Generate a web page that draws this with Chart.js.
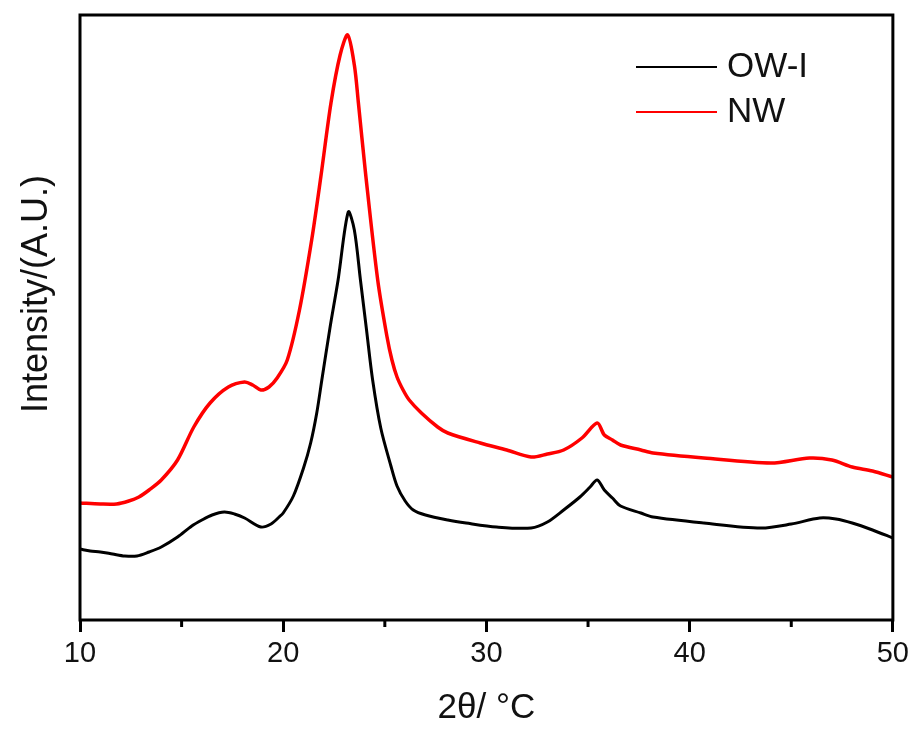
<!DOCTYPE html>
<html>
<head>
<meta charset="utf-8">
<script src="https://cdn.jsdelivr.net/npm/chart.js@4.4.0/dist/chart.umd.min.js"></script>
<style>
body { margin: 0; background: #fff; }
</style>
</head>
<body>
<canvas id="xrd" width="914" height="729"></canvas>
<script>
// datos (intensidad en unidades arbitrarias)
var owX = [10.0, 10.5, 11.0, 11.6, 12.2, 12.8, 13.4, 14.0, 14.8, 15.5, 16.0, 16.5, 17.1, 17.6, 18.1, 18.9, 19.4, 19.8, 20.0, 20.5, 21.0, 21.35, 21.65, 21.9, 22.3, 22.7, 23.2, 23.5, 23.8, 24.1, 24.4, 24.8, 25.3, 25.6, 26.0, 26.4, 27.0, 28.1, 29.0, 30.5, 32.2, 33.0, 33.8, 34.6, 35.1, 35.45, 35.8, 36.2, 36.6, 37.6, 38.2, 40.7, 43.5, 45.0, 46.4, 47.2, 48.0, 49.0, 50.0];
var owY = [69, 67, 66, 64, 62, 62, 66, 71, 81, 92, 98, 103, 106, 104, 100, 91, 94, 101, 105, 122, 150, 175, 205, 238, 290, 338, 406, 388, 338, 288, 238, 190, 152, 132, 117, 108, 103, 98, 95, 91, 90, 96, 108, 121, 131, 138, 128, 120, 112, 105, 101, 95, 90, 94, 100, 99, 95, 88, 80];

var nwX = [10.0, 11.0, 11.8, 12.4, 12.9, 13.4, 14.0, 14.8, 15.6, 16.4, 17.3, 18.1, 18.5, 18.9, 19.3, 19.7, 20.2, 20.8, 21.4, 21.85, 22.35, 22.8, 23.17, 23.5, 23.7, 24.05, 24.65, 25.1, 25.35, 25.6, 25.9, 26.2, 26.8, 27.6, 28.1, 29.7, 31.0, 32.2, 33.0, 33.8, 34.7, 35.45, 35.8, 36.2, 36.6, 37.6, 38.2, 40.7, 44.0, 45.9, 47.0, 48.0, 49.0, 50.0];
var nwY = [115, 114, 114, 117, 121, 128, 138, 158, 191, 215, 231, 236, 233, 228, 231, 240, 258, 308, 378, 441, 515, 563, 583, 553, 515, 445, 338, 282, 258, 241, 228, 218, 205, 191, 185, 175, 168, 161, 164, 168, 180, 195, 183, 178, 173, 168, 165, 160, 155, 160, 158, 151, 147, 141];

var xTicks = [10, 20, 30, 40, 50];
var minorTicks = [15, 25, 35, 45];
var names = ['OW-I', 'NW'];
var colors = ['#000000', '#ff0000'];

Chart.defaults.font.family = "'Liberation Sans', Arial, sans-serif";

function pts(xs, ys) {
    return xs.map(function (x, i) { return { x: x, y: ys[i] }; });
}

// marco, ticks menores, leyenda y titulo del eje y
var extras = {
    id: 'extras',
    afterDraw: function (chart) {
        var ctx = chart.ctx;
        var a = chart.chartArea;
        var sx = chart.scales.x;
        ctx.save();
        ctx.strokeStyle = '#000';
        ctx.lineWidth = 3;
        ctx.strokeRect(a.left, a.top, a.right - a.left, a.bottom - a.top);
        minorTicks.forEach(function (v) {
            var px = sx.getPixelForValue(v);
            ctx.beginPath();
            ctx.moveTo(px, a.bottom);
            ctx.lineTo(px, a.bottom + 7);
            ctx.stroke();
        });
        // leyenda
        ctx.font = "35px 'Liberation Sans', Arial, sans-serif";
        ctx.textBaseline = 'middle';
        ctx.textAlign = 'left';
        var ly = [67, 112];
        chart.data.datasets.forEach(function (ds, i) {
            ctx.strokeStyle = ds.borderColor;
            ctx.lineWidth = 2;
            ctx.beginPath();
            ctx.moveTo(636, ly[i]);
            ctx.lineTo(717, ly[i]);
            ctx.stroke();
            ctx.fillStyle = '#111';
            ctx.fillText(ds.label, 727, ly[i]);
        });
        // titulo eje y
        ctx.translate(37, 294);
        ctx.rotate(-Math.PI / 2);
        ctx.textAlign = 'center';
        ctx.font = "36px 'Liberation Sans', Arial, sans-serif";
        ctx.fillText('Intensity/(A.U.)', 0, 0);
        ctx.restore();
    }
};

new Chart(document.getElementById('xrd'), {
    type: 'line',
    data: {
        datasets: [{
            label: names[0],
            data: pts(owX, owY),
            borderColor: colors[0],
            borderWidth: 3,
            pointRadius: 0,
            tension: 0.3
        }, {
            label: names[1],
            data: pts(nwX, nwY),
            borderColor: colors[1],
            borderWidth: 3.5,
            pointRadius: 0,
            tension: 0.3
        }]
    },
    options: {
        responsive: false,
        animation: false,
        devicePixelRatio: 1,
        layout: { padding: { left: 0, right: 21, top: 15, bottom: 0 } },
        plugins: {
            legend: { display: false },
            tooltip: { enabled: false }
        },
        scales: {
            x: {
                type: 'linear',
                min: 10,
                max: 50,
                afterBuildTicks: function (s) {
                    s.ticks = xTicks.map(function (v) { return { value: v }; });
                },
                afterFit: function (s) { s.height = 109; },
                border: { display: false },
                grid: { drawOnChartArea: false, drawTicks: true, tickLength: 12, tickWidth: 3, tickColor: '#000' },
                ticks: { color: '#111', font: { size: 29 }, padding: 5, maxRotation: 0 },
                title: { display: true, text: '2θ/ °C', color: '#111', font: { size: 35 }, padding: { top: 0, bottom: 0 } }
            },
            y: {
                min: -2,
                max: 603,
                afterFit: function (s) { s.width = 80; },
                border: { display: false },
                grid: { display: false },
                ticks: { display: false }
            }
        }
    },
    plugins: [extras]
});
</script>
</body>
</html>
